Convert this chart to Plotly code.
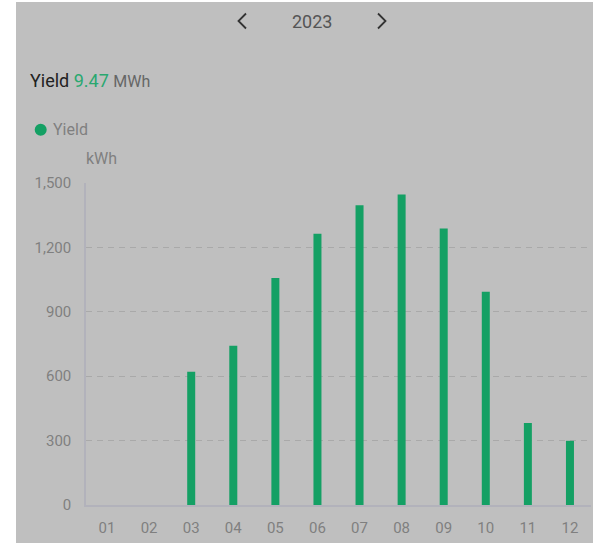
import plotly.graph_objects as go

months = ["01", "02", "03", "04", "05", "06", "07", "08", "09", "10", "11", "12"]
yield_kwh = [0, 0, 621, 742, 1058, 1264, 1396, 1446, 1288, 993, 382, 299]
y_ticks = [0, 300, 600, 900, 1200, 1500]
y_ticktext = ["0", "300", "600", "900", "1,200", "1,500"]
year_label = "2023"
total_label = "9.47"

FW, FH = 593, 543
L, R, T, B = 86, 2, 183, 38
PW, PH = FW - L - R, FH - T - B

def px(x):
    return (x - L) / PW

def py(y):
    return (FH - B - y) / PH

def path(points):
    return "M " + " L ".join(f"{px(x):.5f},{py(y):.5f}" for x, y in points)

GREEN = "#14a064"
GREY_BG = "#bfbfbf"
TXT = "#7f7f7f"

fig = go.Figure()
fig.add_trace(go.Bar(x=months, y=yield_kwh, marker=dict(color=GREEN, line=dict(width=0)),
                     name="Yield", showlegend=False, hoverinfo="x+y"))

shapes = [
    dict(type="rect", xref="paper", yref="paper", x0=px(16), x1=px(FW + 5), y0=py(2), y1=py(FH + 5),
         fillcolor=GREY_BG, line=dict(width=0), layer="below"),
    dict(type="circle", xref="paper", yref="paper", x0=px(34.7), x1=px(46.7), y0=py(123.7), y1=py(135.7),
         fillcolor=GREEN, line=dict(width=0)),
    dict(type="path", xref="paper", yref="paper", path=path([(246, 13.5), (238.5, 21), (246, 28.5)]),
         line=dict(color="#333333", width=1.8)),
    dict(type="path", xref="paper", yref="paper", path=path([(378, 13.5), (385.5, 21), (378, 28.5)]),
         line=dict(color="#333333", width=1.8)),
]

annotations = [
    dict(text=year_label, x=px(312), y=py(21), xanchor="center", yanchor="middle", font=dict(size=18, color="#555555")),
    dict(text="Yield <span style='color:#2aa870'>" + total_label + "</span> <span style='font-size:16px;color:#666666'>MWh</span>",
         x=px(28), y=py(80), xanchor="left", yanchor="middle", font=dict(size=18, color="#222222")),
    dict(text="Yield", x=px(51), y=py(129.5), xanchor="left", yanchor="middle", font=dict(size=16, color=TXT)),
    dict(text="kWh", x=px(84), y=py(158.5), xanchor="left", yanchor="middle", font=dict(size=16, color=TXT)),
]
for a in annotations:
    a.update(xref="paper", yref="paper", showarrow=False)

fig.update_layout(
    width=FW, height=FH,
    margin=dict(l=L, r=R, t=T, b=B, pad=0),
    paper_bgcolor="white", plot_bgcolor="rgba(0,0,0,0)",
    font=dict(family="Roboto", color=TXT),
    bargap=0.81,
    shapes=shapes, annotations=annotations,
    showlegend=False,
)
fig.update_xaxes(type="category", showgrid=False, zeroline=False, showline=True, linecolor="#b2b2bb", linewidth=1.5,
                 ticks="", tickfont=dict(size=15, color=TXT), ticklabelstandoff=8, fixedrange=True)
fig.update_yaxes(range=[0, 1500], tickvals=y_ticks, ticktext=y_ticktext, showgrid=True, gridcolor="#a9a9a9",
                 griddash="6px,5px", gridwidth=1, zeroline=False, showline=True, linecolor="#b2b2bb", linewidth=1.5,
                 ticks="", tickfont=dict(size=15, color=TXT), ticklabelstandoff=10, fixedrange=True)

fig.write_html("out.html")
